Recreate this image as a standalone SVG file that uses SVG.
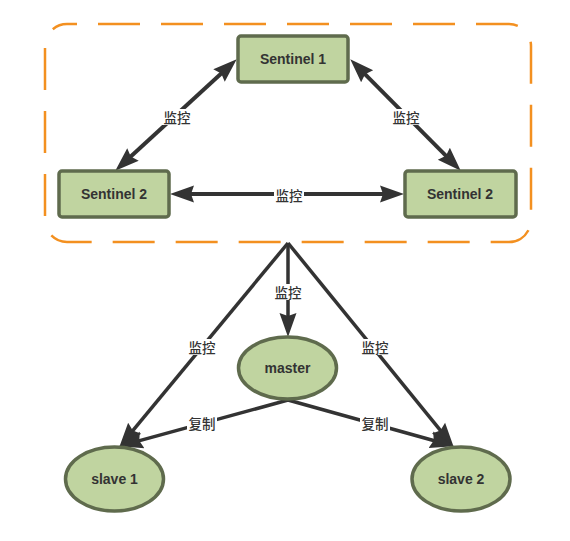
<svg xmlns="http://www.w3.org/2000/svg" width="570" height="541" viewBox="0 0 570 541">
<style>
.node{fill:#c0d4a0;stroke:#5f6b4d;stroke-width:3.5}
.nt{font-family:"Liberation Sans",Arial,sans-serif;font-size:14px;font-weight:bold;fill:#333;text-anchor:middle;dominant-baseline:central}
.ln{stroke:#333;fill:none}
.lb{font-family:"Noto Sans CJK SC","Liberation Sans",sans-serif;font-size:13.5px;font-weight:500;fill:#333;text-anchor:middle;dominant-baseline:central}
.lbg{fill:#fff}
</style>
<defs>
<marker id="ah" markerUnits="userSpaceOnUse" markerWidth="26" markerHeight="20" viewBox="0 0 26 20" refX="13" refY="10" orient="auto-start-reverse">
<path d="M0,1.5 L24,10 L0,18.5 L3,10 Z" fill="#333"/>
</marker>
</defs>
<rect x="45" y="24" width="486" height="218" rx="22" fill="none" stroke="#f39020" stroke-width="2.5" stroke-dasharray="42 21" stroke-dashoffset="32"/>
<g id="connectors">
<line class="ln" stroke-width="4" x1="228.6" y1="66.8" x2="123.4" y2="163.2" marker-start="url(#ah)" marker-end="url(#ah)"/>
<line class="ln" stroke-width="4" x1="358" y1="67.1" x2="453" y2="162.9" marker-start="url(#ah)" marker-end="url(#ah)"/>
<line class="ln" stroke-width="4" x1="181" y1="194" x2="393" y2="194" marker-start="url(#ah)" marker-end="url(#ah)"/>
<line class="ln" stroke-width="3.5" x1="288" y1="243" x2="288" y2="326" marker-end="url(#ah)"/>
<line class="ln" stroke-width="3.5" x1="288" y1="243" x2="126.4" y2="438.3" marker-end="url(#ah)"/>
<line class="ln" stroke-width="3.5" x1="288" y1="243" x2="446.7" y2="438.2" marker-end="url(#ah)"/>
<line class="ln" stroke-width="3.5" x1="288" y1="400" x2="129.6" y2="443.4" marker-end="url(#ah)"/>
<line class="ln" stroke-width="3.5" x1="288" y1="400" x2="443.4" y2="443.3" marker-end="url(#ah)"/>
<rect class="lbg" x="162" y="109" width="30" height="16"/><text class="lb" x="177" y="116.5">监控</text>
<rect class="lbg" x="391" y="109" width="30" height="16"/><text class="lb" x="406" y="116.5">监控</text>
<rect class="lbg" x="274" y="187" width="30" height="16"/><text class="lb" x="289" y="194.5">监控</text>
<rect class="lbg" x="273" y="284" width="30" height="16"/><text class="lb" x="288" y="291.5">监控</text>
<rect class="lbg" x="187" y="339" width="30" height="16"/><text class="lb" x="202" y="346.5">监控</text>
<rect class="lbg" x="360" y="339" width="30" height="16"/><text class="lb" x="375" y="346.5">监控</text>
<rect class="lbg" x="187" y="415" width="30" height="16"/><text class="lb" x="202" y="422.5">复制</text>
<rect class="lbg" x="360" y="415" width="30" height="16"/><text class="lb" x="375" y="422.5">复制</text>
</g>
<g id="sentinel1"><rect class="node" x="238" y="36" width="110" height="46" rx="3"/><text class="nt" x="293" y="59">Sentinel 1</text></g>
<g id="sentinel2-left"><rect class="node" x="59" y="171" width="110" height="46" rx="3"/><text class="nt" x="114" y="194">Sentinel 2</text></g>
<g id="sentinel2-right"><rect class="node" x="405" y="171" width="111" height="46" rx="3"/><text class="nt" x="460" y="194">Sentinel 2</text></g>
<g id="master"><ellipse class="node" cx="287.5" cy="368" rx="49" ry="31"/><text class="nt" x="287.5" y="368">master</text></g>
<g id="slave1"><ellipse class="node" cx="114.5" cy="479" rx="49" ry="32"/><text class="nt" x="114.5" y="479">slave 1</text></g>
<g id="slave2"><ellipse class="node" cx="461" cy="479" rx="49" ry="32"/><text class="nt" x="461" y="479">slave 2</text></g>
</svg>
